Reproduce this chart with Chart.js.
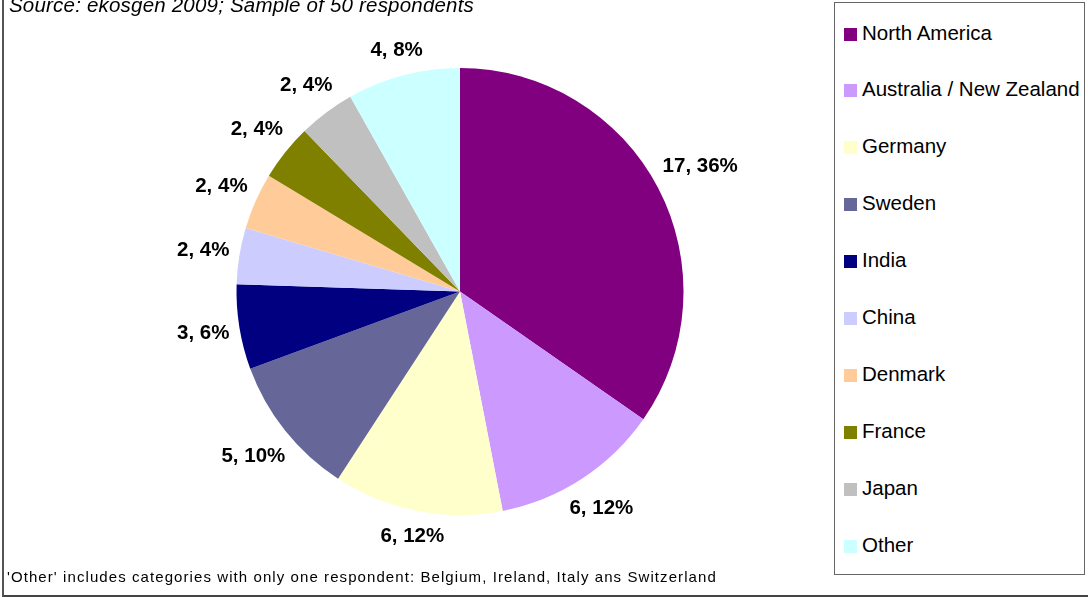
<!DOCTYPE html>
<html>
<head>
<meta charset="utf-8">
<script src="https://cdn.jsdelivr.net/npm/chart.js@4.4.1/dist/chart.umd.min.js"></script>
<style>
  html, body { margin: 0; padding: 0; background: #fff; }
  body { width: 1088px; height: 597px; position: relative; overflow: hidden;
         font-family: "Liberation Sans", Arial, sans-serif; color: #000; }
  #frame { position: absolute; left: 2px; top: -20px; width: 1200px; height: 615px;
           border-left: 2px solid #555; border-bottom: 2px solid #444; }
  #wrap { position: absolute; left: 0; top: 0; width: 1088px; height: 597px; }
  #source { position: absolute; left: 9px; top: -7px; font-size: 20.5px; font-style: italic;
            white-space: nowrap; letter-spacing: 0.2px; }
  #note { position: absolute; left: 7px; top: 568px; font-size: 15px; white-space: nowrap;
          letter-spacing: 1.08px; }
  #legend { position: absolute; left: 834px; top: 2px; width: 251px; height: 573px;
            border: 1.5px solid #666; background: #fff; box-sizing: border-box; }
  .item { position: absolute; left: 9px; height: 24px; display: flex; align-items: center;
          font-size: 20.5px; white-space: nowrap; }
  .sw { width: 13px; height: 13px; margin-right: 5px; margin-top: 3px; }
</style>
</head>
<body>
<div id="frame"></div>
<div id="wrap"><canvas id="pie" width="1088" height="597"></canvas></div>
<div id="source">Source: ekosgen 2009; Sample of 50 respondents</div>
<div id="note">'Other' includes categories with only one respondent: Belgium, Ireland, Italy ans Switzerland</div>
<div id="legend"></div>
<script>
// Country of origin of the respondents
const regions = ['North America', 'Australia / New Zealand', 'Germany', 'Sweden', 'India',
                 'China', 'Denmark', 'France', 'Japan', 'Other'];
const respondents = [17, 6, 6, 5, 3, 2, 2, 2, 2, 4];
const shareLabels = ['36%', '12%', '12%', '10%', '6%', '4%', '4%', '4%', '4%', '8%'];
const sliceColors = ['#800080', '#CC99FF', '#FFFFCC', '#666699', '#000080',
                     '#CCCCFF', '#FFCC99', '#808000', '#C0C0C0', '#CCFFFF'];

// HTML legend box
const legend = document.getElementById('legend');
regions.forEach((name, i) => {
  const row = document.createElement('div');
  row.className = 'item';
  row.style.top = (17.5 + i * 56.9) + 'px';
  const sw = document.createElement('span');
  sw.className = 'sw';
  sw.style.background = sliceColors[i];
  const tx = document.createElement('span');
  tx.textContent = name;
  row.appendChild(sw);
  row.appendChild(tx);
  legend.appendChild(row);
});

// "count, share" labels placed just outside each slice
const outsideLabels = {
  id: 'outsideLabels',
  afterDatasetsDraw(chart) {
    const ctx = chart.ctx;
    const meta = chart.getDatasetMeta(0);
    ctx.save();
    ctx.font = 'bold 20.5px "Liberation Sans", Arial, sans-serif';
    ctx.fillStyle = '#000';
    ctx.textAlign = 'center';
    ctx.textBaseline = 'middle';
    meta.data.forEach((arc, i) => {
      const text = respondents[i] + ', ' + shareLabels[i];
      const w = ctx.measureText(text).width;
      const halfH = 11;
      const mid = (arc.startAngle + arc.endAngle) / 2;
      const dx = Math.cos(mid), dy = Math.sin(mid);
      const dist = arc.outerRadius + 9 + Math.abs(dx) * w / 2 + Math.abs(dy) * halfH;
      ctx.fillText(text, arc.x + dx * dist, arc.y + dy * dist);
    });
    ctx.restore();
  }
};

new Chart(document.getElementById('pie'), {
  type: 'pie',
  data: {
    labels: regions,
    datasets: [{
      data: respondents,
      backgroundColor: sliceColors,
      borderWidth: 0
    }]
  },
  options: {
    responsive: false,
    devicePixelRatio: 1,
    animation: false,
    layout: { padding: { left: 236, right: 404, top: 68, bottom: 82 } },
    plugins: {
      legend: { display: false },
      tooltip: { enabled: false }
    }
  },
  plugins: [outsideLabels]
});
</script>
</body>
</html>
